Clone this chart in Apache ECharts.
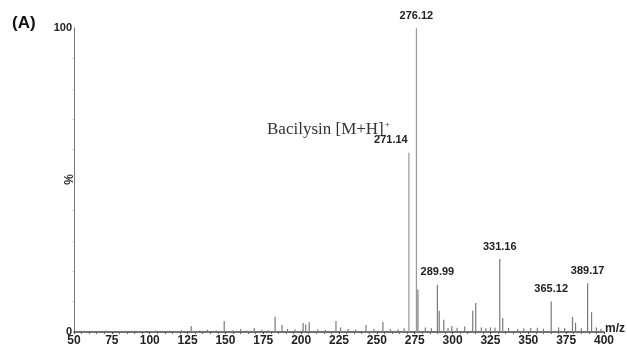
<!DOCTYPE html>
<html>
<head>
<meta charset="utf-8">
<script src="https://cdn.jsdelivr.net/npm/echarts@6/dist/echarts.min.js"></script>
<style>
  html, body { margin: 0; padding: 0; background: #fff; }
  #main { width: 627px; height: 349px; }
</style>
</head>
<body>
<div id="main"></div>
<script>
// 刻度
var xTicks = [50, 75, 100, 125, 150, 175, 200, 225, 250, 275, 300, 325, 350, 375, 400];

// 主要峰 (m/z, 相对强度 %)
var peakMz  = [127.4, 149.2, 160, 169, 182.8, 187.4, 191, 201.3, 203, 205.3, 223, 226,
               242.8, 248, 254, 271.14, 276.12, 277.1, 289.99, 291.2, 294.2, 299.5,
               313.3, 315.3, 325, 331.16, 333.1, 343, 351.6, 365.12, 370, 379.2, 381.2,
               389.17, 391.8];
var peakInt = [2, 3.6, 1, 1.3, 5, 2.3, 1, 3, 2.5, 3.3, 3.6, 1.5,
               2.3, 1, 3.3, 59, 100, 14, 15.5, 7, 4, 2,
               7, 9.5, 1.5, 24, 4.6, 1, 1.3, 10, 1.5, 5, 3,
               16, 6.5];

// 基线噪声
var noiseMz  = [56, 63, 71, 84, 92, 104, 113, 121, 133, 138, 144, 155, 164, 174, 178, 196,
                211, 216, 231, 236, 259, 264, 268, 282, 286, 297, 303, 308, 319, 322, 328,
                337, 347, 356, 360, 374, 385, 395, 398];
var noiseInt = [0.4, 0.3, 0.5, 0.4, 0.3, 0.5, 0.4, 0.6, 0.5, 0.7, 0.5, 0.6, 0.5, 0.7, 0.6, 0.8,
                0.9, 0.7, 1, 0.8, 1, 0.9, 1.2, 1.5, 1.2, 1.3, 1.4, 1.8, 1.5, 1.2, 1.4,
                1.3, 1.2, 1.4, 1.1, 1.3, 1.2, 1.5, 1.1];

// 带标注的峰
var labelMz     = [271.14, 276.12, 289.99, 331.16, 365.12, 389.17];
var labelOffset = [[-18, -2], [0, -2], [0, -2], [0, -2], [0, -2], [0, -2]];

var myChart = echarts.init(document.getElementById('main'), null, { renderer: 'canvas' });

var barData = [];
for (var i = 0; i < noiseMz.length; i++) {
    barData.push([noiseMz[i], noiseInt[i]]);
}
for (var i = 0; i < peakMz.length; i++) {
    var k = labelMz.indexOf(peakMz[i]);
    var item = { value: [peakMz[i], peakInt[i]] };
    if (peakInt[i] > 50) {
        item.itemStyle = { color: '#9a9a9a' }; // 高峰颜色稍浅
    }
    if (k >= 0) {
        item.label = {
            show: true,
            position: 'top',
            offset: labelOffset[k],
            formatter: peakMz[i].toFixed(2),
            fontFamily: 'Liberation Sans, Arial',
            fontWeight: 'bold',
            fontSize: 11,
            color: '#222'
        };
    }
    barData.push(item);
}

var option = {
    animation: false,
    backgroundColor: '#fff',
    title: [{
        text: '(A)',
        left: 7,
        top: 10,
        textStyle: { fontFamily: 'Liberation Sans, Arial', fontWeight: 'bold', fontSize: 17, color: '#111' }
    }, {
        text: '{a|Bacilysin [M+H]}{b|+}',
        left: 262,
        top: 115,
        textStyle: {
            fontWeight: 'normal',
            rich: {
                a: { fontFamily: 'Liberation Serif, Times New Roman', fontWeight: 'normal', fontSize: 17, color: '#333' },
                b: { fontFamily: 'Liberation Serif, Times New Roman', fontWeight: 'normal', fontSize: 9, color: '#333', verticalAlign: 'top', padding: [0, 0, 10, 1] }
            }
        }
    }],
    graphic: [{
        type: 'text',
        left: 64,
        top: 174,
        rotation: Math.PI / 2,
        style: { text: '%', fontFamily: 'Liberation Sans, Arial', fontWeight: 'bold', fontSize: 12, fill: '#333' }
    }, {
        type: 'text',
        left: 605,
        top: 323,
        style: { text: 'm/z', fontFamily: 'Liberation Sans, Arial', fontWeight: 'bold', fontSize: 12, fill: '#222' }
    }],
    grid: { left: 74, right: 23, top: 28, bottom: 17, outerBoundsMode: 'none' },
    xAxis: {
        type: 'value',
        min: 50,
        max: 400,
        interval: 25,
        axisLine: { lineStyle: { color: '#444', width: 1.5 } },
        axisTick: { show: true, length: 2, lineStyle: { color: '#444' } },
        minorTick: { show: true, splitNumber: 5, length: 2, lineStyle: { color: '#666' } },
        splitLine: { show: false },
        axisLabel: {
            margin: 3,
            fontFamily: 'Liberation Sans, Arial',
            fontWeight: 'bold',
            fontSize: 12,
            color: '#222',
            customValues: xTicks
        }
    },
    yAxis: {
        type: 'value',
        min: 0,
        max: 100,
        interval: 100,
        axisLine: { show: true, lineStyle: { color: '#777', width: 1 } },
        axisTick: { show: false },
        minorTick: { show: true, splitNumber: 10, length: 2, lineStyle: { color: '#ddd' } },
        splitLine: { show: false },
        axisLabel: {
            margin: 2,
            fontFamily: 'Liberation Sans, Arial',
            fontWeight: 'bold',
            fontSize: 11,
            color: '#222'
        }
    },
    series: [{
        type: 'bar',
        barWidth: 1.2,
        itemStyle: { color: '#7a7a7a' },
        data: barData
    }]
};

myChart.setOption(option);
</script>
</body>
</html>
